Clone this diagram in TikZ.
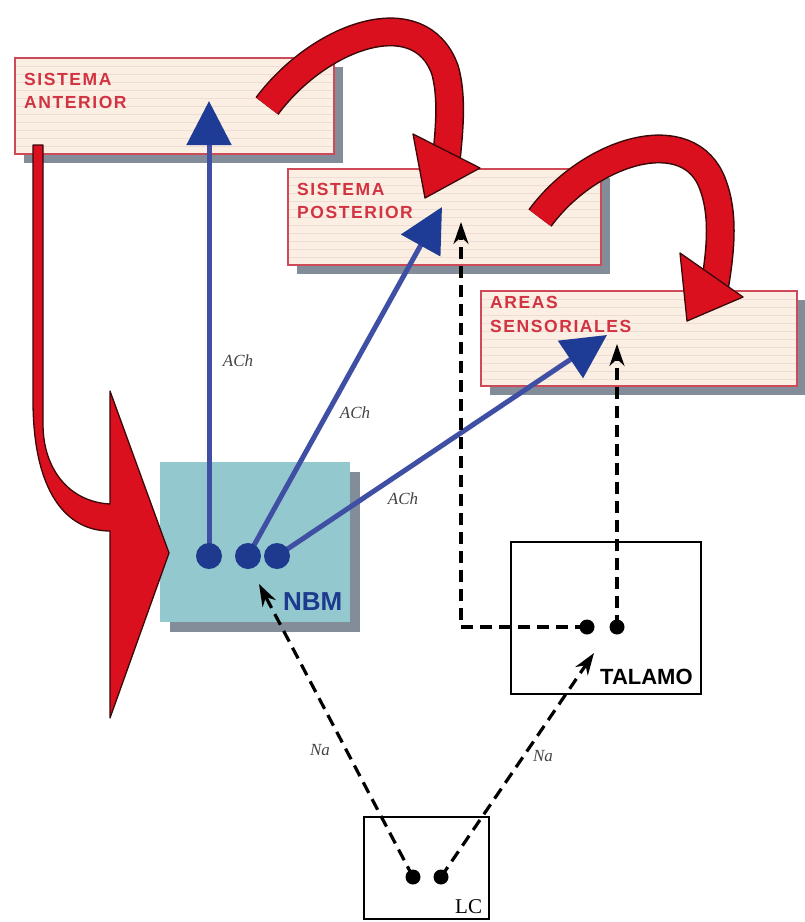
\documentclass[tikz,border=0pt]{standalone}
\usepackage{fontspec}
\setmainfont{Liberation Serif}
\setsansfont{Liberation Sans}
\newfontfamily\labfont{Liberation Sans}[LetterSpace=9]
\usetikzlibrary{arrows.meta,shadows}

\definecolor{boxred}{HTML}{CE4A58}
\definecolor{txtred}{HTML}{D23342}
\definecolor{cream}{HTML}{FBEEE2}
\definecolor{stripe}{HTML}{EEDDD5}
\definecolor{shade}{HTML}{838D9A}
\definecolor{nbmfill}{HTML}{93C8CF}
\definecolor{lineblue}{HTML}{3F4FA3}
\definecolor{headblue}{HTML}{1E3B96}
\definecolor{dotblue}{HTML}{1D3A8E}
\definecolor{arrred}{HTML}{DA101F}
\definecolor{arrdark}{HTML}{3A0808}
\definecolor{labgray}{HTML}{444444}

\tikzset{
  area/.style={draw=boxred, line width=2.2pt, fill=cream, anchor=north west, inner sep=0pt,
    drop shadow={shadow xshift=9pt, shadow yshift=-9pt, fill=shade, opacity=1},
    path picture={\foreach \k in {1,...,11}{\draw[stripe,line width=0.7pt]
      ([yshift=-\k*8pt]path picture bounding box.north west) --
      ([yshift=-\k*8pt]path picture bounding box.north east);}}},
  nbmbox/.style={fill=nbmfill, draw=none, anchor=north west, inner sep=0pt,
    drop shadow={shadow xshift=10pt, shadow yshift=-10pt, fill=shade, opacity=1}},
  plainbox/.style={draw=black, line width=2.4pt, fill=white, anchor=north west, inner sep=0pt},
  arealabel/.style={anchor=base west, inner sep=0pt, text=txtred,
    font=\labfont\bfseries\fontsize{17.5}{20}\selectfont},
  bdot/.style={circle, fill=dotblue, minimum size=26pt, inner sep=0pt},
  kdot/.style={circle, fill=black, minimum size=15pt, inner sep=0pt},
  blueline/.style={draw=lineblue, line width=5pt,
    -{Triangle[length=44pt,width=44pt,color=headblue]}},
  dashline/.style={draw=black, line width=3.2pt, dash pattern=on 12pt off 7pt,
    -{Stealth[length=22pt,width=15pt]}},
  chem/.style={inner sep=0pt, text=labgray, font=\itshape\fontsize{17}{20}\selectfont},
  bandout/.style={draw=arrdark, line width=29pt},
  bandin/.style={draw=arrred, line width=26pt},
  redfill/.style={fill=arrred, draw=arrdark, line width=1.3pt, line join=round}
}

\begin{document}
\begin{tikzpicture}[x=1pt,y=-1pt]
\useasboundingbox (0,0) rectangle (805,922);

% cortical areas
\node[area, minimum width=319pt, minimum height=96pt] (ant) at (14,57) {};
\node[area, minimum width=313pt, minimum height=96pt] (post) at (287,168) {};
\node[area, minimum width=316pt, minimum height=95pt] (sens) at (480,290) {};

% nuclei
\node[nbmbox, minimum width=190pt, minimum height=160pt] (nbm) at (160,462) {};
\node[plainbox, minimum width=190pt, minimum height=152pt] (tal) at (510,541) {};
\node[plainbox, minimum width=125pt, minimum height=102pt] (lc) at (363,816) {};

% cell positions
\coordinate (n1) at (209,556);
\coordinate (n2) at (248,556);
\coordinate (n3) at (277,556);
\coordinate (t1) at (587,627);
\coordinate (t2) at (617,627);
\coordinate (l1) at (413,877);
\coordinate (l2) at (441,877);

% arrow tips and bends
\coordinate (tipAnt) at (209,101);
\coordinate (tipPost) at (442,207);
\coordinate (tipSens) at (607,335);
\coordinate (bendT) at (461,627);
\coordinate (tipPostK) at (461,222);
\coordinate (tipSensK) at (617,344);
\coordinate (tipNbm) at (259,584);
\coordinate (tipTal) at (594,653);

% red arrow: anterior system down to NBM
\filldraw[redfill] (33,145) -- (33,400) .. controls (33,490) and (65,531) .. (110,531)
  -- (110,718) -- (169,553) -- (110,391) -- (110,504)
  .. controls (70,502) and (43,470) .. (43,424) -- (43,145) -- cycle;

% red arrow: anterior to posterior system
\path[bandout] (267,106) .. controls (320,35) and (420,0) .. (445,70)
  .. controls (452,95) and (450,125) .. (446,162);
\path[bandin] (267,106) .. controls (320,35) and (420,0) .. (445,70)
  .. controls (452,95) and (450,125) .. (446,162);
\filldraw[redfill] (413,134) -- (480,168) -- (425,198) -- cycle;

% red arrow: posterior system to sensory areas
\path[bandout] (540,218) .. controls (590,150) and (690,120) .. (713,185)
  .. controls (723,212) and (722,245) .. (714,290);
\path[bandin] (540,218) .. controls (590,150) and (690,120) .. (713,185)
  .. controls (723,212) and (722,245) .. (714,290);
\filldraw[redfill] (680,253) -- (743,297) -- (687,321) -- cycle;

% cholinergic projections
\draw[blueline] (n1) -- (tipAnt);
\draw[blueline] (n2) -- (tipPost);
\draw[blueline] (n3) -- (tipSens);

% thalamic and noradrenergic projections
\draw[dashline] (t1) -- (bendT) -- (tipPostK);
\draw[dashline] (t2) -- (tipSensK);
\draw[dashline] (l1) -- (tipNbm);
\draw[dashline] (l2) -- (tipTal);

% cells
\node[bdot] (d1) at (n1) {};
\node[bdot] (d2) at (n2) {};
\node[bdot] (d3) at (n3) {};
\node[kdot] (k1) at (t1) {};
\node[kdot] (k2) at (t2) {};
\node[kdot] (k3) at (l1) {};
\node[kdot] (k4) at (l2) {};

% area names
\node[arealabel] (antA) at (24,85) {SISTEMA};
\node[arealabel] (antB) at (24,108) {ANTERIOR};
\node[arealabel] (postA) at (297,195) {SISTEMA};
\node[arealabel] (postB) at (297,218) {POSTERIOR};
\node[arealabel] (sensA) at (490,308) {AREAS};
\node[arealabel] (sensB) at (490,332) {SENSORIALES};

% nucleus names
\node[anchor=base west, inner sep=0pt, text=dotblue,
  font=\sffamily\bfseries\fontsize{26}{28}\selectfont] (nbmtxt) at (283,610) {NBM};
\node[anchor=base west, inner sep=0pt,
  font=\sffamily\bfseries\fontsize{22}{24}\selectfont] (taltxt) at (600,684) {TALAMO};
\node[anchor=base west, inner sep=0pt,
  font=\fontsize{21}{24}\selectfont] (lctxt) at (455,913) {LC};

% transmitter labels
\node[chem] (ach1) at (238,361) {ACh};
\node[chem] (ach2) at (355,413) {ACh};
\node[chem] (ach3) at (403,499) {ACh};
\node[chem] (na1) at (320,750) {Na};
\node[chem] (na2) at (543,756) {Na};
\end{tikzpicture}
\end{document}
